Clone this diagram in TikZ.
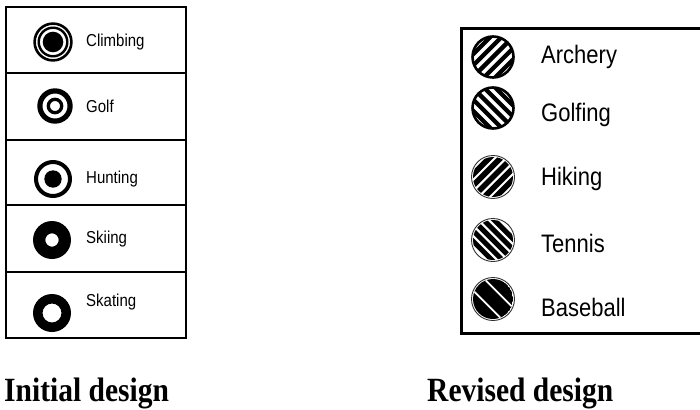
\documentclass[tikz,border=0pt]{standalone}
\usepackage{fontspec}
\setmainfont{Liberation Serif}
\newfontfamily\itemsans{Liberation Sans}
\begin{document}
\begin{tikzpicture}[x=1pt,y=-1pt,
  leftitem/.style={anchor=west,inner sep=0pt,font=\itemsans\fontsize{15}{15}\selectfont},
  rightitem/.style={anchor=west,inner sep=0pt,font=\itemsans\fontsize{22}{22}\selectfont},
  caption/.style={anchor=base west,inner sep=0pt,font=\bfseries\fontsize{29.5}{30}\selectfont},
  thinbox/.style={draw=black,line width=1.5pt},
  thickbox/.style={draw=black,line width=3pt}]
\useasboundingbox (0,0) rectangle (700,409);
\newcommand{\vs}[1]{\scalebox{1}[1.15]{#1}}
% ---------- left box ----------
\draw[thinbox] (6,7) rectangle (186,338);
\foreach \yy in {73,140,205,272} \draw[line width=1.5pt] (6,\yy) -- (186,\yy);
% Climbing
\draw[line width=2.6pt] (53,42) circle (18.4);
\draw[line width=2.4pt] (53,42) circle (14.3);
\fill (53,42) circle (10.3);
\node[leftitem] (t1) at (86,42) {\vs{Climbing}};
% Golf
\draw[line width=5.2pt] (55,106) circle (15.1);
\draw[line width=3.3pt] (55,106) circle (6.7);
\node[leftitem] (t2) at (86,106) {\vs{Golf}};
% Hunting
\draw[line width=4pt] (53,179) circle (17);
\fill (53,179) circle (8.7);
\node[leftitem] (t3) at (86,179) {\vs{Hunting}};
% Skiing
\fill[even odd rule] (52,240) circle (19) (52,240) circle (6.7);
\node[leftitem] (t4) at (86,239) {\vs{Skiing}};
% Skating
\fill[even odd rule] (52,313) circle (19) (52,313) circle (9.5);
\node[leftitem] (t5) at (86,302) {\vs{Skating}};
% ---------- right box ----------
\draw[thickbox] (461,29) rectangle (712,333);
% Archery
\begin{scope}[shift={(493,57)}]
  \begin{scope}\clip (0,0) circle (21);
    \foreach \d in {-16,-8,0,8,16} \draw[line width=4.3pt,rotate=45] (-30,\d) -- (30,\d);
  \end{scope}
  \draw[line width=2.6pt] (0,0) circle (20.5);
\end{scope}
\node[rightitem] (r1) at (541,57) {\vs{Archery}};
% Golfing
\begin{scope}[shift={(493,108)}]
  \begin{scope}\clip (0,0) circle (21);
    \foreach \d in {-16,-8,0,8,16} \draw[line width=4.3pt,rotate=-45] (-30,\d) -- (30,\d);
  \end{scope}
  \draw[line width=2.6pt] (0,0) circle (20.5);
\end{scope}
\node[rightitem] (r2) at (541,115) {\vs{Golfing}};
% Hiking
\begin{scope}[shift={(493,177)}]
  \begin{scope}\clip (0,0) circle (20);
    \foreach \d in {-16,-8,0,8,16} \draw[line width=5.6pt,rotate=45] (-30,\d) -- (30,\d);
  \end{scope}
  \draw[line width=0.9pt,black!80] (0,0) circle (21.5);
\end{scope}
\node[rightitem] (r3) at (541,179) {\vs{Hiking}};
% Tennis
\begin{scope}[shift={(493,240)}]
  \begin{scope}\clip (0,0) circle (20);
    \foreach \d in {-15,-7.5,0,7.5,15} \draw[line width=5pt,rotate=-45] (-30,\d) -- (30,\d);
  \end{scope}
  \draw[line width=0.9pt,black!80] (0,0) circle (21.5);
\end{scope}
\node[rightitem] (r4) at (541,243) {\vs{Tennis}};
% Baseball
\begin{scope}[shift={(493,299)}]
  \begin{scope}\clip (0,0) circle (20);
    \fill (0,0) circle (20);
    \foreach \d in {-8,8} \draw[line width=1.8pt,white,rotate=-45] (-30,\d) -- (30,\d);
  \end{scope}
  \draw[line width=0.9pt,black!80] (0,0) circle (21.5);
\end{scope}
\node[rightitem] (r5) at (541,307) {\vs{Baseball}};
% ---------- captions ----------
\node[caption] (c1) at (4,401) {\vs{Initial design}};
\node[caption] (c2) at (427,401) {\vs{Revised design}};
\end{tikzpicture}
\end{document}
